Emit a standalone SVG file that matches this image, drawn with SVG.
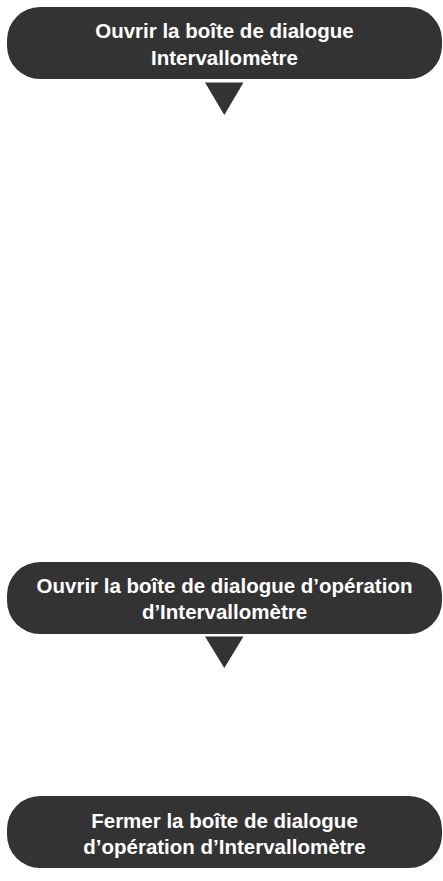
<svg xmlns="http://www.w3.org/2000/svg" width="443" height="881" viewBox="0 0 443 881">
<style>
.box{fill:#333333}
.lbl{fill:#ffffff;font-family:"Liberation Sans",Arial,sans-serif;font-weight:bold;font-size:20.5px;text-anchor:middle}
.arr{fill:#333333}
</style>
<rect width="443" height="881" fill="#ffffff"/>
<g id="node1">
<rect class="box" x="7" y="7" width="435" height="72" rx="33" ry="33"/>
<text class="lbl" x="224.5" y="38">Ouvrir la boîte de dialogue</text>
<text class="lbl" x="224.5" y="64.5">Intervallomètre</text>
</g>
<g id="node2">
<rect class="box" x="7" y="562" width="435" height="72" rx="33" ry="33"/>
<text class="lbl" x="224.5" y="592.5">Ouvrir la boîte de dialogue d’opération</text>
<text class="lbl" x="224.5" y="619">d’Intervallomètre</text>
</g>
<g id="node3">
<rect class="box" x="7" y="796" width="435" height="72" rx="33" ry="33"/>
<text class="lbl" x="224.5" y="827.5">Fermer la boîte de dialogue</text>
<text class="lbl" x="224.5" y="854">d’opération d’Intervallomètre</text>
</g>
<g id="connectors">
<polygon class="arr" points="205,82.5 243.5,82.5 224.3,115"/>
<polygon class="arr" points="205,636.5 243.5,636.5 224.3,668"/>
</g>
</svg>
